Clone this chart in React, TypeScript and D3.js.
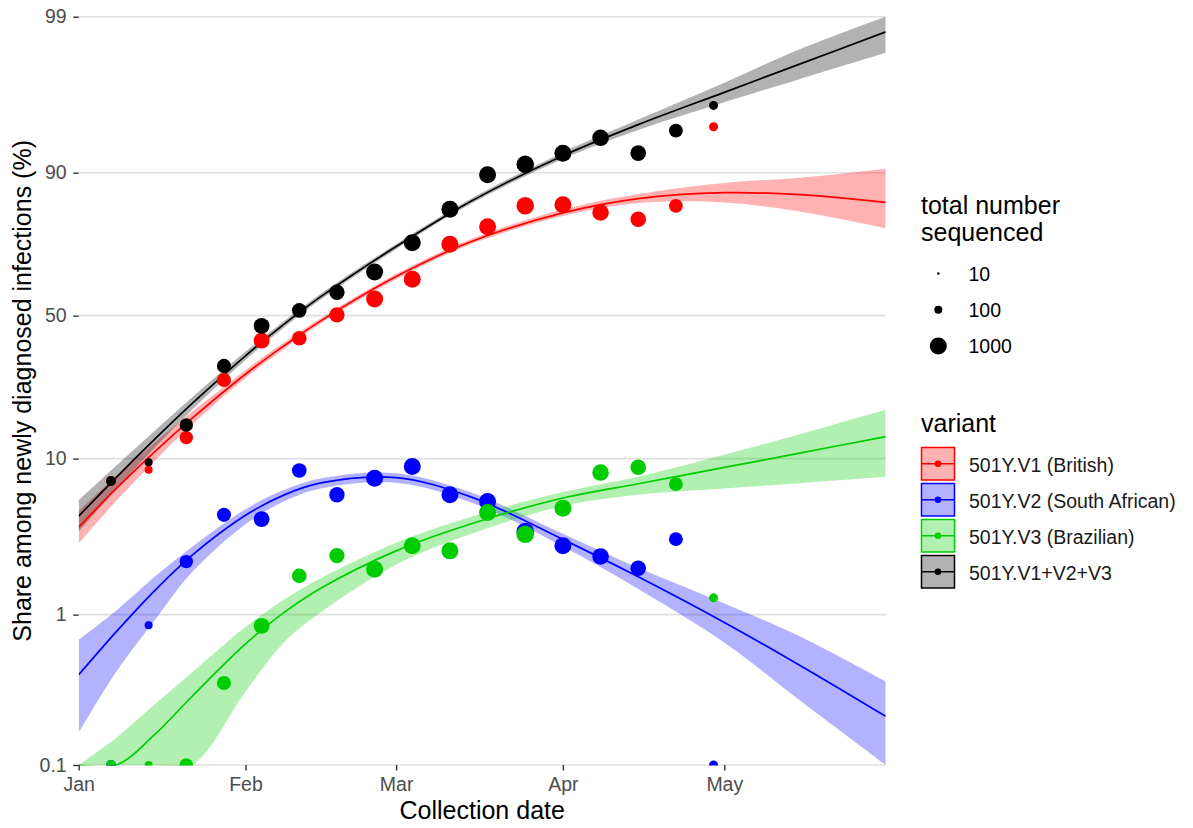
import React, { useEffect, useRef } from 'react';
import * as d3 from 'd3';

// weekly observations
const weekDates = [
  '2021-01-07', '2021-01-14', '2021-01-21', '2021-01-28', '2021-02-04', '2021-02-11',
  '2021-02-18', '2021-02-25', '2021-03-04', '2021-03-11', '2021-03-18', '2021-03-25',
  '2021-04-01', '2021-04-08', '2021-04-15', '2021-04-22', '2021-04-29'
];
const totalSequenced = [160, 100, 400, 480, 750, 550, 650, 1000, 1000, 1000, 1000, 1150, 1000, 900, 700, 450, 130];
const shareV1 = [7.3, 8.55, 13.3, 27.1, 40.5, 41.4, 50.3, 56.4, 63.6, 75.0, 79.7, 84.4, 84.6, 83.0, 81.5, 84.4, 94.8];
const shareV2 = [0, 0.85, 2.23, 4.47, 4.2, 8.47, 5.99, 7.6, 8.96, 6.0, 5.43, 3.5, 2.83, 2.41, 2.02, 3.12, 0];
const shareV3 = [0, 0, 0, 0.352, 0.843, 1.8, 2.44, 1.99, 2.83, 2.62, 4.63, 3.36, 4.93, 8.23, 8.87, 6.98, 1.29];
const shareAll = [7.3, 9.5, 15.7, 31.6, 46.1, 52, 58.9, 66.2, 75.4, 83.7, 89.7, 91.1, 92.4, 93.9, 92.4, 94.5, 96.2];

// fitted model (days after Jan 1) with 95% band
const fitDays = [0, 7, 14, 21, 31, 38, 45, 59, 73, 90, 104, 120, 134, 150];
const fitV1 = [3.73, 6.56, 10.91, 17.05, 28.9, 38.4, 48.0, 64.57, 75.77, 82.92, 85.81, 86.87, 86.53, 85.07];
const lowV1 = [2.93, 5.49, 9.62, 15.68, 27.7, 37.2, 47.0, 63.65, 75.03, 82.2, 84.94, 85.07, 83.2, 79.3];
const highV1 = [4.74, 7.83, 12.35, 18.52, 30.2, 39.6, 49.0, 65.47, 76.49, 83.62, 86.65, 88.5, 89.28, 90.55];
const fitV2 = [0.399, 0.772, 1.425, 2.44, 4.44, 5.94, 7.1, 7.66, 5.79, 3.11, 1.773, 0.887, 0.462, 0.211];
const lowV2 = [0.164, 0.419, 0.904, 1.89, 3.89, 5.41, 6.56, 7.13, 5.35, 2.8, 1.478, 0.654, 0.27, 0.0907];
const highV2 = [0.681, 1.064, 1.761, 2.77, 4.86, 6.39, 7.57, 8.16, 6.18, 3.38, 2.03, 1.185, 0.719, 0.36];
const fitV3 = [0.0437, 0.0848, 0.158, 0.285, 0.639, 1.022, 1.492, 2.62, 3.92, 5.72, 7.02, 8.84, 10.78, 13.47];
const lowV3 = [0.0051, 0.0157, 0.0432, 0.1, 0.308, 0.647, 1.036, 2.13, 3.38, 5.09, 5.99, 6.56, 7.08, 7.76];
const highV3 = [0.0956, 0.152, 0.251, 0.412, 0.828, 1.245, 1.736, 2.96, 4.35, 6.23, 7.76, 10.53, 13.92, 19.08];
const fitAll = [4.39, 7.69, 12.89, 20.46, 35.03, 46.46, 57.25, 74.31, 85.35, 92.12, 94.96, 96.87, 97.95, 98.74];
const lowAll = [3.49, 6.51, 11.49, 18.95, 33.56, 45.21, 56.14, 73.54, 84.84, 91.75, 94.55, 96.38, 97.43, 98.27];
const highAll = [5.52, 9.07, 14.42, 22.05, 36.52, 47.7, 58.35, 75.06, 85.84, 92.48, 95.32, 97.29, 98.36, 99.08];

const variantNames = ['501Y.V1 (British)', '501Y.V2 (South African)', '501Y.V3 (Brazilian)', '501Y.V1+V2+V3'];
const variantColors = ['#FF0000', '#0000FF', '#00CD00', '#000000'];

const yTicks = [0.1, 1, 10, 50, 90, 99];
const yTickLabels = ['0.1', '1', '10', '50', '90', '99'];
const monthTicks = ['2021-01-01', '2021-02-01', '2021-03-01', '2021-04-01', '2021-05-01'];
const monthLabels = ['Jan', 'Feb', 'Mar', 'Apr', 'May'];
const sizeBreaks = [10, 100, 1000];

const App = () => {
  const svgRef = useRef(null);

  useEffect(() => {
    document.body.style.margin = '0';
    const font = '"Liberation Sans", Arial, Helvetica, sans-serif';
    const left = 78.7, right = 885.7, top = 16.7, bottom = 765;

    const parse = d3.utcParse('%Y-%m-%d');
    const start = parse('2021-01-01');
    const x = d3.scaleUtc().domain([start, parse('2021-05-31')]).range([left, right]);

    // logit scale, values outside 0.1..99 squished to the limits
    const logit = (pct) => {
      const p = Math.min(Math.max(pct, 0.1), 99) / 100;
      return Math.log(p / (1 - p));
    };
    const yLin = d3.scaleLinear().domain([logit(0.1), logit(99)]).range([bottom, top]);
    const y = (pct) => yLin(logit(pct));
    const r = d3.scaleLog().domain([10, 100, 1000]).range([1.3, 4, 8.5]);

    const series = [
      { color: variantColors[0], obs: shareV1, fit: fitV1, low: lowV1, high: highV1 },
      { color: variantColors[1], obs: shareV2, fit: fitV2, low: lowV2, high: highV2 },
      { color: variantColors[2], obs: shareV3, fit: fitV3, low: lowV3, high: highV3 },
      { color: variantColors[3], obs: shareAll, fit: fitAll, low: lowAll, high: highAll }
    ];

    const svg = d3.select(svgRef.current);
    svg.selectAll('*').remove();

    svg.append('defs').append('clipPath').attr('id', 'panel')
      .append('rect').attr('x', left).attr('y', top - 0.5)
      .attr('width', right - left).attr('height', bottom - top + 1);

    // horizontal grid
    svg.append('g').selectAll('line').data(yTicks).enter().append('line')
      .attr('x1', left).attr('x2', right)
      .attr('y1', (d) => y(d)).attr('y2', (d) => y(d))
      .attr('stroke', '#E0E0E0').attr('stroke-width', 1.6);

    const plot = svg.append('g').attr('clip-path', 'url(#panel)');

    const curve = d3.curveCatmullRom.alpha(0.5);
    const area = d3.area()
      .x((d) => x(d.date)).y0((d) => y(d.low)).y1((d) => y(d.high))
      .curve(curve);
    const line = d3.line()
      .x((d) => x(d.date)).y((d) => y(d.fit))
      .curve(curve);

    const fitRows = (s) => fitDays.map((day, i) => ({
      date: d3.utcDay.offset(start, day), fit: s.fit[i], low: s.low[i], high: s.high[i]
    }));

    series.forEach((s) => {
      plot.append('path').datum(fitRows(s)).attr('d', area)
        .attr('fill', s.color).attr('fill-opacity', 0.3);
    });
    series.forEach((s) => {
      plot.append('path').datum(fitRows(s)).attr('d', line)
        .attr('fill', 'none').attr('stroke', s.color).attr('stroke-width', 1.7);
    });
    series.forEach((s) => {
      plot.append('g').selectAll('circle').data(s.obs).enter().append('circle')
        .attr('cx', (d, i) => x(parse(weekDates[i])))
        .attr('cy', (d) => y(d))
        .attr('r', (d, i) => r(totalSequenced[i]))
        .attr('fill', s.color);
    });

    // axes
    const yAxis = svg.append('g').attr('transform', `translate(${left},0)`)
      .call(d3.axisLeft(yLin).tickValues(yTicks.map(logit))
        .tickFormat((d, i) => yTickLabels[i]).tickSize(5.5).tickPadding(6.5));
    const xAxis = svg.append('g').attr('transform', `translate(0,${bottom})`)
      .call(d3.axisBottom(x).tickValues(monthTicks.map(parse))
        .tickFormat((d, i) => monthLabels[i]).tickSize(5.5).tickPadding(6.5));
    [yAxis, xAxis].forEach((g) => {
      g.select('.domain').remove();
      g.selectAll('line').attr('stroke', '#333333').attr('stroke-width', 1.4);
      g.selectAll('text').attr('fill', '#4D4D4D').style('font-family', font).style('font-size', '19.5px');
    });

    svg.append('text')
      .attr('transform', `translate(31,${(top + bottom) / 2}) rotate(-90)`)
      .attr('text-anchor', 'middle')
      .style('font-family', font).style('font-size', '25px')
      .text('Share among newly diagnosed infections (%)');
    svg.append('text')
      .attr('x', (left + right) / 2).attr('y', 819)
      .attr('text-anchor', 'middle')
      .style('font-family', font).style('font-size', '25px')
      .text('Collection date');

    // size legend
    const sizeLegend = svg.append('g');
    sizeLegend.append('text').attr('x', 921).attr('y', 214)
      .style('font-family', font).style('font-size', '25px').text('total number');
    sizeLegend.append('text').attr('x', 921).attr('y', 241)
      .style('font-family', font).style('font-size', '25px').text('sequenced');
    sizeBreaks.forEach((b, i) => {
      const cy = 273.5 + i * 36.2;
      sizeLegend.append('circle').attr('cx', 938.3).attr('cy', cy).attr('r', r(b)).attr('fill', '#000');
      sizeLegend.append('text').attr('x', 968.5).attr('y', cy + 7.5)
        .style('font-family', font).style('font-size', '19.5px').text(b);
    });

    // variant legend
    const varLegend = svg.append('g');
    varLegend.append('text').attr('x', 921).attr('y', 432)
      .style('font-family', font).style('font-size', '25px').text('variant');
    variantNames.forEach((name, i) => {
      const y0 = 447.5 + i * 36;
      const c = variantColors[i];
      varLegend.append('rect').attr('x', 921.5).attr('y', y0).attr('width', 33).attr('height', 32.5)
        .attr('fill', c).attr('fill-opacity', 0.3).attr('stroke', c).attr('stroke-width', 1.5);
      varLegend.append('line').attr('x1', 921.5).attr('x2', 954.5)
        .attr('y1', y0 + 16.25).attr('y2', y0 + 16.25)
        .attr('stroke', c).attr('stroke-width', 1.7);
      varLegend.append('circle').attr('cx', 938).attr('cy', y0 + 16.25).attr('r', 3.3).attr('fill', c);
      varLegend.append('text').attr('x', 969).attr('y', y0 + 24)
        .style('font-family', font).style('font-size', '19.5px').attr('fill', '#1A1A1A').text(name);
    });
  }, []);

  return <svg ref={svgRef} width={1193} height={828} style={{ display: 'block' }}></svg>;
};

export default App;
